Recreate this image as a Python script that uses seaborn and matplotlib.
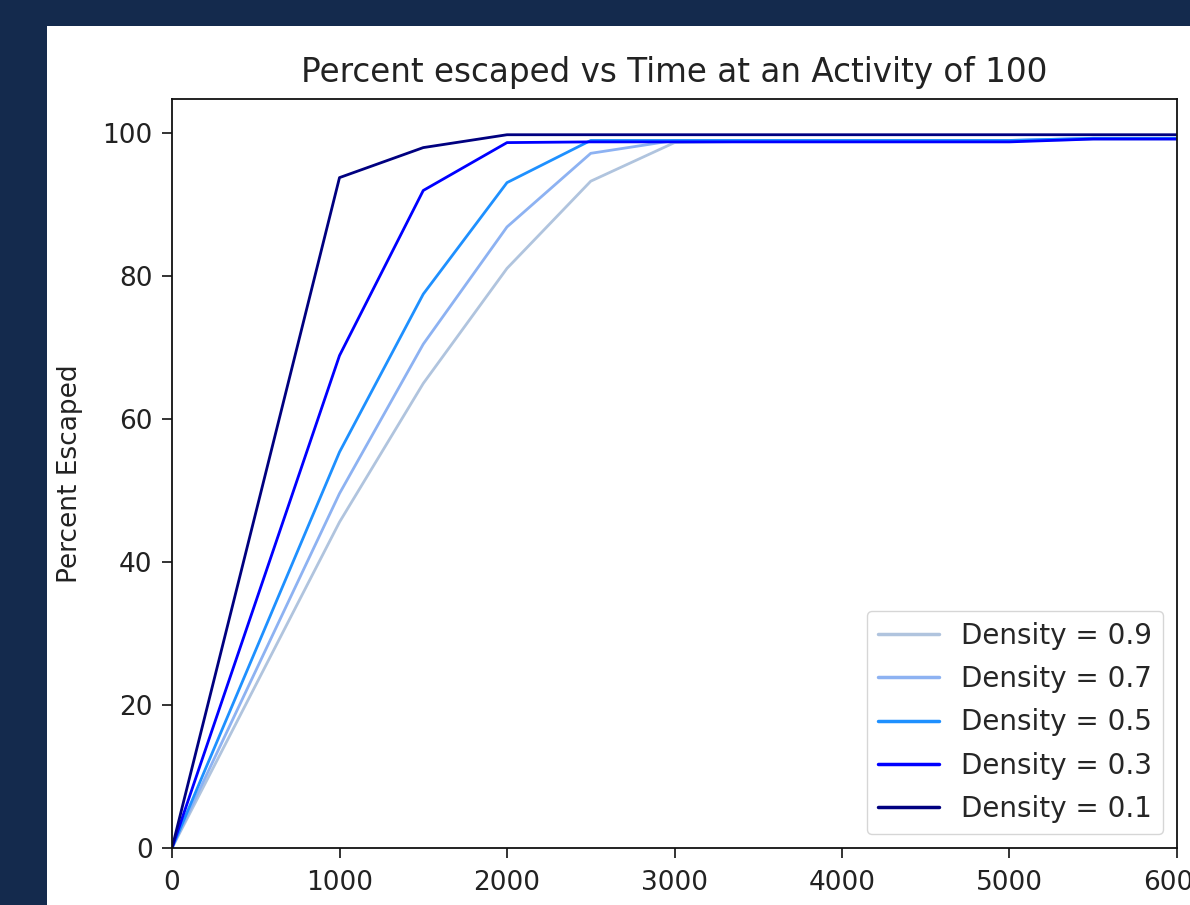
import matplotlib
matplotlib.use("Agg")
import matplotlib.pyplot as plt
import seaborn as sns
import pandas as pd
from matplotlib.patches import Rectangle

time = [0, 1000, 1500, 2000, 2500, 3000, 3500, 4000, 4500, 5000, 5500, 6000]
density_09 = [0, 45.6, 65.0, 81.1, 93.3, 98.7, 98.9, 98.9, 98.9, 98.9, 99.2, 99.2]
density_07 = [0, 49.6, 70.5, 86.9, 97.2, 99.0, 99.0, 99.0, 99.0, 99.0, 99.3, 99.3]
density_05 = [0, 55.4, 77.5, 93.1, 99.0, 99.0, 99.0, 99.0, 99.0, 99.0, 99.3, 99.3]
density_03 = [0, 68.9, 92.0, 98.7, 98.8, 98.8, 98.8, 98.8, 98.8, 98.8, 99.2, 99.2]
density_01 = [0, 93.8, 98.0, 99.8, 99.8, 99.8, 99.8, 99.8, 99.8, 99.8, 99.8, 99.8]
labels = ["Density = 0.9", "Density = 0.7", "Density = 0.5", "Density = 0.3", "Density = 0.1"]
colors = ["#b0c4de", "#8db2f2", "#1e90ff", "#0000ff", "#000080"]
x_ticks = [0, 1000, 2000, 3000, 4000, 5000, 6000]
y_ticks = [0, 20, 40, 60, 80, 100]

series = [density_09, density_07, density_05, density_03, density_01]
rows = []
for lab, vals in zip(labels, series):
    for t, v in zip(time, vals):
        rows.append({"Time": t, "Percent": v, "Density": lab})
df = pd.DataFrame(rows)

sns.set_style("ticks")
plt.rcParams['font.family'] = ['DejaVu Sans']

W, H = 1190, 905
fig = plt.figure(figsize=(W / 100, H / 100), dpi=100, facecolor="#142a4d")
fig.patches.append(Rectangle((47 / W, 0), 1 - 47 / W, 1 - 26 / H,
                             transform=fig.transFigure, facecolor="white",
                             edgecolor="none", zorder=-10))
ax = fig.add_axes([172 / W, (H - 848) / H, (1177 - 172) / W, (848 - 99) / H])
ax.set_zorder(5)
sns.lineplot(data=df, x="Time", y="Percent", hue="Density", hue_order=labels,
             palette=colors, linewidth=2.0, ax=ax)
ax.set_xlim(0, 6000)
ax.set_ylim(0, 104.8)
ax.set_xticks(x_ticks)
ax.set_yticks(y_ticks)
ax.tick_params(labelsize=19, length=7, width=1.2, pad=7,
               colors="#111111", labelcolor="#222222")
ax.tick_params(axis="x", pad=9)
for s in ax.spines.values():
    s.set_linewidth(1.3)
    s.set_color("#111111")
ax.set_xlabel("")
ax.set_ylabel("Percent Escaped", fontsize=19, color="#222222", labelpad=14)
ax.set_title("Percent escaped vs Time at an Activity of 100", fontsize=23.5,
             color="#222222", pad=12)
leg = ax.legend(loc="lower right", fontsize=20, frameon=True, handlelength=2.2,
                handletextpad=0.8, labelspacing=0.55, borderaxespad=0.5)
for line in leg.get_lines():
    line.set_linewidth(2.5)
fig.savefig("out.png", dpi=100, facecolor=fig.get_facecolor())
